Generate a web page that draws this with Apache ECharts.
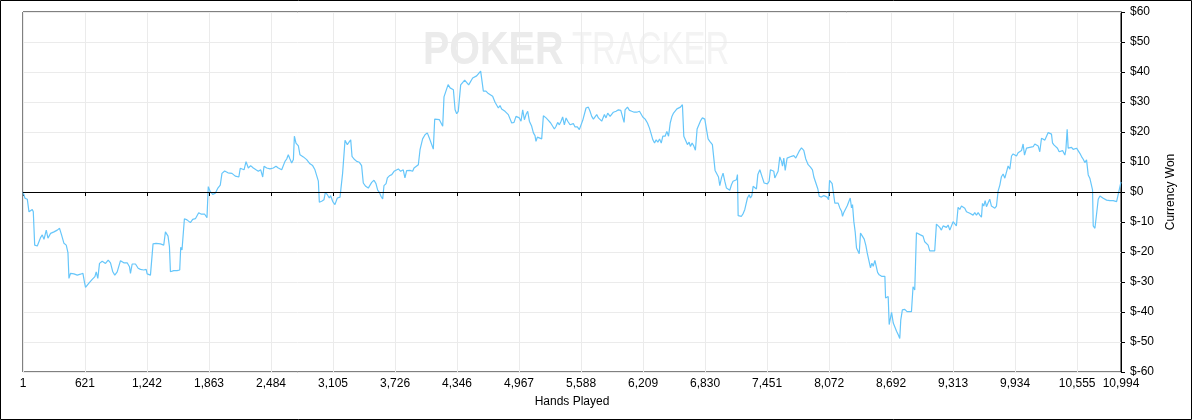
<!DOCTYPE html>
<html>
<head>
<meta charset="utf-8">
<script src="https://cdn.jsdelivr.net/npm/echarts@6/dist/echarts.min.js"></script>
<style>
  html, body { margin: 0; padding: 0; background: #fff; }
  #chart { width: 1192px; height: 420px; }
</style>
</head>
<body>
<div id="chart"></div>
<script>
// hand ticks shown on the x axis
const handTicks = [1, 621, 1242, 1863, 2484, 3105, 3726, 4346, 4967, 5588, 6209, 6830, 7451, 8072, 8692, 9313, 9934, 10555, 10994];
// $ range on the right axis
const wonMin = -60, wonMax = 60, wonStep = 10;

// [hands played, currency won]
const curve = [
  [1,0],[21,-2.1],[44,-2.4],[61,-6.6],[81,-6.9],[94,-5.8],[104,-6.6],[118,-17.7],[144,-18],[161,-18.4],
  [178,-15.1],[194,-14.3],[211,-15.8],[234,-12.7],[251,-15.4],[277,-13.8],[311,-13.3],[344,-12.7],[367,-12.1],[387,-14.3],
  [411,-17.1],[434,-17.7],[451,-20.2],[461,-28.8],[477,-27.1],[511,-27.3],[544,-27.7],[577,-27.4],[601,-27.1],[614,-29.6],
  [627,-31.8],[661,-30.4],[694,-29.1],[721,-28.2],[734,-26.6],[750,-28.8],[767,-23.8],[794,-23.1],[827,-23.8],[854,-22.7],
  [877,-23.6],[900,-26.6],[920,-27.7],[944,-26.6],[977,-22.9],[1010,-23.6],[1044,-23.6],[1067,-24.9],[1077,-27.1],[1094,-24],
  [1127,-24],[1154,-25.4],[1177,-25.8],[1210,-26],[1234,-25.8],[1244,-27.3],[1277,-27.7],[1294,-27.1],[1303,-17.3],[1333,-17.1],
  [1377,-17.3],[1410,-17.7],[1427,-13.3],[1453,-14.7],[1467,-18.2],[1477,-26.6],[1510,-26.2],[1543,-26.2],[1570,-26],[1580,-18.4],
  [1593,-19.3],[1617,-8.9],[1643,-9.3],[1677,-10.2],[1700,-9.1],[1727,-8.9],[1760,-6.9],[1787,-7.4],[1820,-7.4],[1843,-8.6],
  [1856,1.8],[1876,0.1],[1900,-0.8],[1926,-0.4],[1950,1.2],[1976,2.3],[1993,6.2],[2020,7],[2053,6.4],[2093,6.2],
  [2126,5.3],[2140,5.2],[2162,5],[2176,7.9],[2190,8],[2214,7.4],[2234,10.1],[2257,8],[2280,8.8],[2307,8],
  [2334,7.4],[2357,6.9],[2381,7.4],[2401,5],[2414,8.6],[2441,8],[2474,7.7],[2507,8],[2534,8.6],[2557,8],
  [2591,7.4],[2624,10.2],[2641,11],[2657,12.4],[2674,11],[2691,9.7],[2708,10.8],[2718,18.6],[2734,16.3],[2758,15.4],
  [2774,12.4],[2808,11.7],[2841,10.8],[2858,11],[2874,9.4],[2901,8.8],[2924,7.4],[2941,7.2],[2958,3.6],[2968,-3.4],
  [2991,-3.1],[3014,-2.6],[3028,-0.1],[3048,-0.9],[3068,-2],[3081,-1.2],[3101,-3.1],[3124,-4.2],[3148,-2],[3175,-1.7],
  [3191,-1.2],[3201,6.3],[3215,5.8],[3225,17.2],[3248,15.8],[3265,16.6],[3282,17.4],[3295,11.9],[3315,11],[3342,10.2],
  [3369,9.9],[3391,8.8],[3408,3],[3432,1.9],[3458,1.3],[3475,1],[3492,3.2],[3515,3.9],[3535,2.8],[3552,0.6],
  [3569,-0.1],[3585,-1.4],[3602,-2.3],[3615,2.1],[3636,2.8],[3649,4.7],[3669,5.4],[3693,5.8],[3716,6.9],[3736,6.3],
  [3759,7.7],[3782,6.9],[3808,7.4],[3825,4.7],[3842,7.1],[3875,7.2],[3902,6.9],[3916,8],[3936,7.7],[3959,9.1],
  [3976,14.1],[4002,17.7],[4026,19.1],[4049,19.7],[4069,18],[4093,15.8],[4109,14.3],[4123,24.3],[4143,23.9],[4170,24.1],
  [4186,23.6],[4203,21.9],[4216,31.7],[4236,31.9],[4257,35.8],[4277,34.7],[4293,35],[4310,34.1],[4327,27.4],[4343,26.1],
  [4359,26.9],[4376,26.6],[4383,35.7],[4423,37.3],[4463,35.7],[4503,38],[4543,38.7],[4583,40.3],[4610,33.6],[4636,33.6],
  [4660,32.8],[4676,33],[4703,31.9],[4727,29.9],[4743,29.4],[4760,28],[4777,28.8],[4793,27.7],[4810,28.3],[4827,26.9],
  [4843,26.3],[4860,25.8],[4877,25.2],[4894,23],[4917,23.2],[4937,25.2],[4954,25.8],[4970,24.7],[4987,23.6],[5004,27.4],
  [5021,24.1],[5037,25.8],[5054,26.9],[5071,23.6],[5094,21.9],[5111,19.7],[5127,18.8],[5137,16.9],[5151,18.3],[5171,18],
  [5194,17.7],[5211,25.4],[5238,24.7],[5261,23.9],[5284,23],[5304,23.6],[5321,21],[5338,21.9],[5354,23.2],[5371,22.4],
  [5388,23.6],[5404,25],[5421,22.4],[5438,24.7],[5455,23.6],[5478,22.4],[5495,21.9],[5511,22.8],[5528,21.7],[5551,21.7],
  [5571,20.8],[5585,20.2],[5605,23.9],[5621,24.1],[5638,28],[5661,28.3],[5678,26.9],[5695,25.2],[5712,24.3],[5728,24.1],
  [5745,25.8],[5762,24.7],[5778,25.2],[5795,23.6],[5812,23],[5822,25.8],[5838,24.7],[5855,26.3],[5879,25.2],[5895,25.8],
  [5912,26.6],[5939,26.9],[5962,27.4],[5986,27.2],[6002,27.2],[6019,23.2],[6029,27.4],[6053,28.3],[6073,27.2],[6096,26.9],
  [6120,26.6],[6146,26.6],[6173,26.9],[6190,26.3],[6206,25],[6230,24.3],[6253,23],[6273,21.3],[6290,19.4],[6307,17.4],
  [6324,16.3],[6340,17.4],[6357,16.6],[6374,17.7],[6391,16.3],[6407,18.6],[6430,18.6],[6447,20.2],[6464,18.6],[6481,23],
  [6498,25.2],[6514,26.3],[6548,27.7],[6560,27.7],[6583,28.3],[6603,29.1],[6617,18.6],[6636,18.3],[6653,15.8],[6670,16.6],
  [6683,15.2],[6700,16.3],[6716,15.4],[6733,13.9],[6750,21],[6770,21.3],[6787,23.9],[6803,24.7],[6827,24.3],[6843,24.7],
  [6860,17.7],[6877,16.9],[6903,15.8],[6917,15.8],[6930,7.2],[6950,6.6],[6964,5],[6977,2.1],[6994,4.7],[7010,6.3],
  [7027,3.6],[7044,1.3],[7060,1.3],[7077,0.6],[7094,2.4],[7110,3.6],[7127,3.9],[7144,4.1],[7154,5.8],[7161,-7.9],
  [7177,-8.3],[7194,-8.1],[7211,-7.2],[7227,-5.9],[7244,-6.1],[7254,-2],[7271,-0.9],[7284,-2],[7298,-1.2],[7311,1.9],
  [7328,1.3],[7344,1],[7358,5.8],[7378,7.4],[7391,7.7],[7404,4.7],[7421,3],[7438,3.6],[7454,2.7],[7471,3.6],
  [7484,7.4],[7504,7.7],[7518,6.9],[7528,4.7],[7545,5.8],[7561,6.9],[7578,11.7],[7595,10.2],[7605,8.6],[7618,11.3],
  [7632,7.2],[7651,11.3],[7671,11.3],[7695,11.9],[7718,12.1],[7738,11.3],[7755,11.9],[7772,13.6],[7795,14.7],[7818,13.9],
  [7838,11],[7862,9.1],[7885,8.3],[7905,7.4],[7919,5],[7939,3],[7959,1],[7972,-1.4],[7995,-1.7],[8019,-1.2],
  [8039,-0.6],[8052,-1.7],[8066,-2.6],[8076,3.9],[8089,3.6],[8102,2.8],[8116,2.4],[8129,-3.7],[8146,-3.9],[8162,-3.7],
  [8179,-5.3],[8196,-6.4],[8206,-8.1],[8219,-6.8],[8239,-7],[8253,-4.6],[8269,-4.2],[8283,-2],[8296,-5.3],[8306,-4.2],
  [8319,-9.8],[8333,-13.4],[8346,-18.7],[8363,-19.2],[8373,-20.6],[8386,-13.7],[8406,-13.9],[8423,-15.7],[8440,-17.9],[8453,-20.3],
  [8473,-20.9],[8486,-25.3],[8500,-23.7],[8513,-24.8],[8530,-22.8],[8547,-23.1],[8557,-26.8],[8573,-27.6],[8597,-28.1],[8614,-28.3],
  [8630,-28.1],[8637,-35.3],[8647,-35.9],[8663,-34.8],[8673,-44.2],[8687,-44.8],[8697,-40.1],[8714,-43.7],[8730,-45],[8747,-46.4],
  [8765,-47.7],[8779,-48.8],[8789,-42.7],[8805,-39.3],[8829,-39.1],[8852,-39.9],[8872,-39.6],[8896,-39.9],[8912,-31.6],[8929,-32.7],
  [8946,-13.6],[8962,-13.2],[8986,-14.3],[9012,-14.7],[9029,-16.6],[9046,-16.2],[9063,-17.7],[9079,-19.6],[9106,-19.6],[9129,-19.6],
  [9146,-10.7],[9163,-11.3],[9179,-11.8],[9196,-12.7],[9213,-11.3],[9230,-11],[9246,-11.8],[9263,-11],[9280,-12.7],[9296,-12.1],
  [9313,-9.9],[9330,-10.4],[9346,-11.3],[9363,-5.1],[9380,-5.8],[9397,-4.7],[9413,-5.1],[9430,-5.4],[9447,-6.6],[9463,-6.2],
  [9480,-7.1],[9497,-6.9],[9513,-7.7],[9530,-6.9],[9547,-7.7],[9564,-6.9],[9580,-7.7],[9597,-8.4],[9607,-3.8],[9620,-4.7],
  [9634,-2.9],[9647,-4.9],[9664,-3.6],[9680,-2.4],[9697,-4.7],[9714,-5.1],[9731,-5.4],[9747,-4.7],[9764,0.4],[9781,2.3],
  [9797,5.1],[9814,6],[9831,4.6],[9847,4.2],[9864,8.7],[9881,7.6],[9898,12],[9914,12.7],[9931,12.3],[9948,12],
  [9964,13.1],[9981,13.3],[9998,13.8],[10014,16],[10028,12.3],[10048,14.6],[10065,15.1],[10081,14.9],[10098,15.3],[10115,15.1],
  [10131,16],[10148,15.7],[10165,15.3],[10181,13.4],[10198,17.9],[10215,18.4],[10232,17.3],[10248,17.9],[10265,19.8],[10282,20.1],
  [10298,19.3],[10308,16.4],[10322,15.7],[10342,16],[10358,14.6],[10375,13.4],[10388,13.1],[10409,13.8],[10432,12.3],[10442,14],
  [10455,20.9],[10465,14.6],[10482,15.1],[10499,14.9],[10515,14.2],[10532,14],[10549,14.6],[10566,14],[10582,12.9],[10599,11.8],
  [10616,10.9],[10632,9.8],[10649,10.7],[10666,5.7],[10682,4.6],[10699,5.1],[10709,0.7],[10716,-11.3],[10733,-12.1],[10743,-12.7],
  [10756,-5.4],[10766,-2.4],[10783,-1.3],[10799,-1],[10816,-2.1],[10833,-2.4],[10850,-2.7],[10883,-2.9],[10916,-2.9],[10950,-3.2],
  [10960,-2.9],[10994,3.4]
];

const font = '"Liberation Sans", Arial, sans-serif';
const myChart = echarts.init(document.getElementById('chart'), null, { renderer: 'canvas' });

const option = {
  animation: false,
  backgroundColor: '#fff',
  grid: {
    left: 23, top: 12, right: 71, bottom: 48,
    show: true, borderColor: '#000', borderWidth: 1,
    outerBoundsMode: 'none'
  },
  graphic: [
    { type: 'rect', silent: true, z: 100,
      shape: { x: 0.5, y: 0.5, width: 1191, height: 419 },
      style: { fill: 'none', stroke: '#000', lineWidth: 1 } },
    // faint watermark
    { type: 'text', silent: true, z: 0, x: 423, y: 28, scaleX: 0.84,
      style: { text: 'POKER', font: 'bold 47px ' + font, fill: '#ebebeb', textVerticalAlign: 'top' } },
    { type: 'text', silent: true, z: 0, x: 572, y: 28, scaleX: 0.7,
      style: { text: 'TRACKER', font: '47px ' + font, fill: '#f3f3f3', textVerticalAlign: 'top' } }
  ],
  xAxis: {
    type: 'value',
    min: 1, max: 10994,
    name: 'Hands Played',
    nameLocation: 'middle',
    nameGap: 24,
    nameTextStyle: { color: '#000', fontSize: 12, fontFamily: font },
    axisLine: { show: true, lineStyle: { color: '#000', width: 1 } },
    axisTick: { show: true, length: 4, lineStyle: { color: '#000' }, customValues: handTicks },
    axisLabel: {
      color: '#000', fontSize: 12, fontFamily: font, margin: 6,
      customValues: handTicks,
      formatter: v => v.toLocaleString('en-US')
    },
    splitLine: { show: true, lineStyle: { color: '#ebebeb', width: 1 } }
  },
  yAxis: {
    type: 'value',
    position: 'right',
    min: wonMin, max: wonMax, interval: wonStep,
    name: 'Currency Won',
    nameLocation: 'middle',
    nameRotate: 90,
    nameGap: 40,
    nameTextStyle: { color: '#000', fontSize: 12, fontFamily: font },
    axisLine: { show: true, lineStyle: { color: '#000', width: 1 } },
    axisTick: { show: true, length: 4, lineStyle: { color: '#000' } },
    axisLabel: {
      color: '#000', fontSize: 12, fontFamily: font, margin: 9,
      formatter: v => '$' + v
    },
    splitLine: { show: true, lineStyle: { color: '#ebebeb', width: 1 } }
  },
  series: [
    {
      name: 'Currency Won',
      type: 'line',
      data: curve,
      showSymbol: false,
      symbol: 'none',
      lineStyle: { color: '#66c6fa', width: 1.2 },
      z: 3,
      markLine: {
        silent: true,
        symbol: 'none',
        label: { show: false },
        lineStyle: { color: '#000', width: 1, type: 'solid' },
        data: [{ yAxis: 0 }]
      }
    }
  ]
};
myChart.setOption(option);
</script>
</body>
</html>
